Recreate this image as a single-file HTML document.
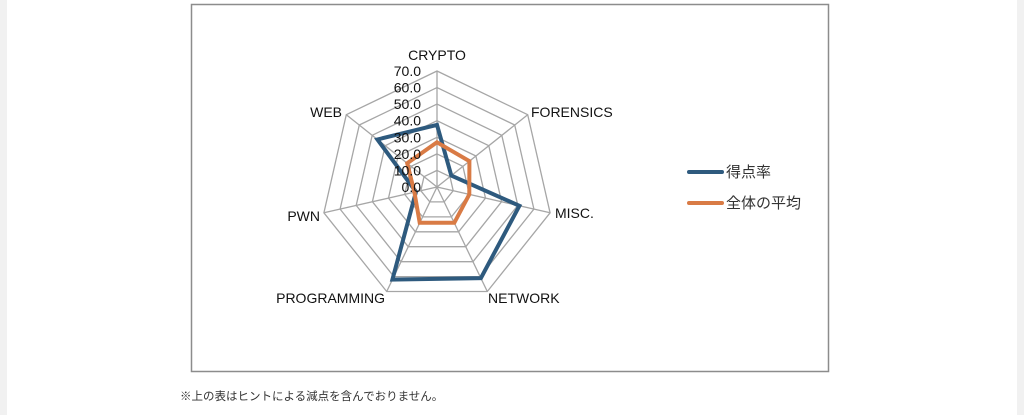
<!DOCTYPE html>
<html><head><meta charset="utf-8"><style>
html,body{margin:0;padding:0;background:#fff;}
body{width:1024px;height:415px;position:relative;overflow:hidden;font-family:"Liberation Sans","Noto Sans CJK JP",sans-serif;}
.strip{position:absolute;top:0;bottom:0;width:7px;background:#f1f1f1;}
</style></head><body>
<div class="strip" style="left:0"></div>
<div class="strip" style="right:0"></div>
<svg id="s" width="1024" height="415" style="position:absolute;left:0;top:0" font-family="Liberation Sans, Noto Sans CJK JP, sans-serif">
<rect x="191.5" y="4.5" width="637" height="367" fill="#fff" stroke="#8c8c8c" stroke-width="1.5"/>
<g id="grid" fill="none" stroke="#a6a6a6" stroke-width="1.3"></g>
<g id="data"></g>
<g font-size="14" fill="#111">
<text x="437" y="60" text-anchor="middle">CRYPTO</text>
<text x="531" y="117">FORENSICS</text>
<text x="555" y="218">MISC.</text>
<text x="488" y="303">NETWORK</text>
<text x="385" y="303" text-anchor="end">PROGRAMMING</text>
<text x="320" y="221" text-anchor="end">PWN</text>
<text x="342" y="117" text-anchor="end">WEB</text>
</g>
<g id="ticks" font-size="14" fill="#111" text-anchor="end"></g>
<line x1="689" y1="172" x2="722" y2="172" stroke="#2e5a7e" stroke-width="4" stroke-linecap="round"/>
<text x="726" y="177" font-size="15" fill="#333">得点率</text>
<line x1="689" y1="203" x2="722" y2="203" stroke="#d97b45" stroke-width="4" stroke-linecap="round"/>
<text x="726" y="208" font-size="15" fill="#333">全体の平均</text>
<text x="180" y="400" font-size="11.5" fill="#333">※上の表はヒントによる減点を含んでおりません。</text>
</svg>
<script>
var cx=437,cy=187,R=116,ns="http://www.w3.org/2000/svg";
function pt(k,v){var a=k*2*Math.PI/7;var r=R*v/70;return [(cx+r*Math.sin(a)).toFixed(1),(cy-r*Math.cos(a)).toFixed(1)];}
var g=document.getElementById('grid');
for(var l=1;l<=7;l++){var p=[];for(var k=0;k<7;k++)p.push(pt(k,l*10).join(','));var e=document.createElementNS(ns,'polygon');e.setAttribute('points',p.join(' '));g.appendChild(e);}
for(var k=0;k<7;k++){var q=pt(k,70);var e=document.createElementNS(ns,'line');e.setAttribute('x1',cx);e.setAttribute('y1',cy);e.setAttribute('x2',q[0]);e.setAttribute('y2',q[1]);g.appendChild(e);}
var t=document.getElementById('ticks');
for(var l=0;l<=7;l++){var e=document.createElementNS(ns,'text');e.setAttribute('x',421);e.setAttribute('y',cy-R*l/7+5);e.textContent=(l*10).toFixed(1);t.appendChild(e);}
var d=document.getElementById('data');
function poly(vals,col){var p=vals.map(function(v,k){return pt(k,v).join(',');});var e=document.createElementNS(ns,'polygon');e.setAttribute('points',p.join(' '));e.setAttribute('fill','none');e.setAttribute('stroke',col);e.setAttribute('stroke-width','4');e.setAttribute('stroke-linejoin','miter');d.appendChild(e);}
poly([37.5,11,51,61,62,13,46],'#2e5a7e');
poly([27,25,20,24,24,14,23],'#d97b45');
</script>
</body></html>
